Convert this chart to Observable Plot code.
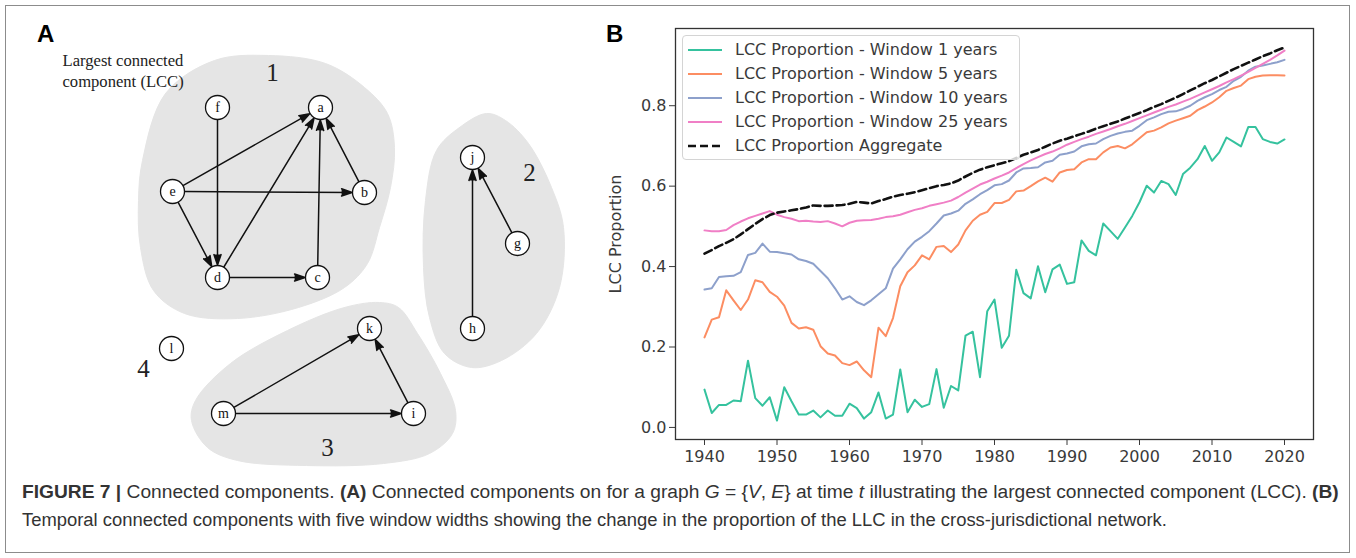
<!DOCTYPE html>
<html>
<head>
<meta charset="utf-8">
<script src="https://cdn.jsdelivr.net/npm/d3@7"></script>
<script src="https://cdn.jsdelivr.net/npm/@observablehq/plot@0.6"></script>
<style>
  body { margin: 0; background: #fff; }
  #fig { position: relative; width: 1356px; height: 558px; overflow: hidden; background: #fff; }
  #border { position: absolute; left: 5px; top: 5px; width: 1345px; height: 548px; border: 1px solid #8c8c8c; box-sizing: border-box; }
  .panel { position: absolute; }
  .plabel { position: absolute; font-family: "Liberation Sans", Arial, sans-serif; font-weight: bold; font-size: 24px; line-height: 24px; color: #000; }
  #legend { position: absolute; left: 682px; top: 35px; width: 338px; height: 125px; box-sizing: border-box;
            border: 1px solid #d4d4d4; border-radius: 4px; background: rgba(255,255,255,0.8);
            padding-top: 2px; font-family: "DejaVu Sans", sans-serif; font-size: 16px; color: #3a3a3a; }
  .lrow { height: 24px; line-height: 24px; display: flex; align-items: center; white-space: nowrap; }
  .lrow svg { margin-left: 5px; margin-right: 13px; flex: none; }
  .cap { position: absolute; left: 22px; font-family: "Liberation Sans", Arial, sans-serif; font-size: 16px; line-height: 20px; color: #333; white-space: nowrap; }
</style>
</head>
<body>
<div id="fig">
  <div id="border"></div>
  <div id="panelA" class="panel" style="left:6px; top:6px;"></div>
  <div id="panelB" class="panel" style="left:596px; top:6px;"></div>
  <div id="legend"></div>
  <div class="plabel" style="left:37px; top:22px;">A</div>
  <div class="plabel" style="left:606px; top:22px;">B</div>
  <div class="cap" id="cap1" style="top:482px;"><b>FIGURE 7 |</b> Connected components. <b>(A)</b> Connected components on for a graph <i>G</i> = {<i>V</i>, <i>E</i>} at time <i>t</i> illustrating the largest connected component (LCC). <b>(B)</b></div>
  <div class="cap" id="cap2" style="top:510px;">Temporal connected components with five window widths showing the change in the proportion of the LLC in the cross-jurisdictional network.</div>
</div>
<script>
// ---------------- Panel B data ----------------
const years = d3.range(1940, 2021);
const win1 = [0.094,0.036,0.056,0.056,0.067,0.065,0.166,0.073,0.054,0.075,
  0.017,0.100,0.065,0.032,0.032,0.042,0.025,0.042,0.029,0.029,
  0.059,0.048,0.022,0.038,0.087,0.022,0.032,0.144,0.038,0.069,
  0.051,0.058,0.145,0.049,0.103,0.092,0.228,0.238,0.125,0.289,
  0.318,0.198,0.228,0.392,0.334,0.321,0.401,0.336,0.393,0.405,
  0.357,0.361,0.465,0.439,0.428,0.507,0.488,0.469,0.497,0.526,
  0.560,0.601,0.584,0.613,0.605,0.578,0.630,0.646,0.667,0.700,
  0.663,0.684,0.721,0.710,0.699,0.747,0.747,0.717,0.710,0.706,0.716];
const win5 = [0.224,0.268,0.274,0.341,0.316,0.292,0.318,0.366,0.361,0.337,
  0.325,0.303,0.260,0.246,0.249,0.243,0.202,0.184,0.179,0.160,
  0.155,0.164,0.142,0.125,0.248,0.227,0.272,0.351,0.386,0.403,
  0.428,0.418,0.449,0.451,0.436,0.455,0.490,0.514,0.529,0.536,
  0.558,0.558,0.566,0.587,0.589,0.600,0.612,0.621,0.611,0.634,
  0.640,0.642,0.659,0.667,0.667,0.684,0.696,0.700,0.694,0.704,
  0.719,0.734,0.738,0.746,0.756,0.763,0.769,0.775,0.789,0.798,
  0.808,0.821,0.837,0.844,0.850,0.866,0.872,0.875,0.876,0.876,0.875];
const win10 = [0.343,0.346,0.374,0.376,0.377,0.386,0.429,0.434,0.457,0.437,
  0.436,0.433,0.430,0.418,0.414,0.407,0.389,0.371,0.346,0.318,
  0.326,0.312,0.304,0.316,0.331,0.346,0.395,0.418,0.443,0.462,
  0.474,0.488,0.507,0.527,0.532,0.539,0.556,0.567,0.580,0.590,
  0.602,0.605,0.614,0.634,0.644,0.645,0.647,0.659,0.663,0.678,
  0.681,0.686,0.699,0.704,0.706,0.717,0.725,0.731,0.735,0.738,
  0.750,0.764,0.771,0.779,0.785,0.786,0.792,0.800,0.812,0.821,
  0.829,0.839,0.847,0.862,0.872,0.887,0.897,0.900,0.904,0.908,0.914];
const win25 = [0.490,0.488,0.488,0.491,0.503,0.512,0.520,0.526,0.532,0.538,
  0.529,0.523,0.519,0.513,0.514,0.512,0.511,0.513,0.507,0.500,
  0.509,0.514,0.515,0.516,0.519,0.523,0.525,0.529,0.535,0.541,
  0.545,0.551,0.555,0.559,0.564,0.573,0.584,0.594,0.604,0.611,
  0.619,0.626,0.634,0.645,0.655,0.664,0.672,0.680,0.686,0.694,
  0.703,0.710,0.717,0.723,0.730,0.736,0.742,0.749,0.755,0.762,
  0.769,0.776,0.783,0.790,0.797,0.803,0.810,0.817,0.825,0.833,
  0.841,0.849,0.858,0.866,0.875,0.884,0.894,0.904,0.914,0.925,0.937];
const aggregate = [0.432,0.441,0.451,0.459,0.468,0.480,0.493,0.506,0.518,0.528,
  0.534,0.537,0.540,0.543,0.547,0.552,0.551,0.551,0.552,0.553,
  0.556,0.561,0.559,0.557,0.563,0.568,0.574,0.578,0.581,0.585,
  0.590,0.595,0.600,0.603,0.607,0.614,0.624,0.633,0.641,0.647,
  0.652,0.657,0.662,0.670,0.678,0.684,0.690,0.698,0.706,0.713,
  0.718,0.724,0.730,0.736,0.743,0.749,0.755,0.761,0.768,0.775,
  0.782,0.789,0.797,0.804,0.812,0.820,0.829,0.838,0.847,0.856,
  0.864,0.873,0.882,0.891,0.899,0.907,0.915,0.923,0.930,0.938,0.945];
const seriesNames = ["LCC Proportion - Window 1 years", "LCC Proportion - Window 5 years",
  "LCC Proportion - Window 10 years", "LCC Proportion - Window 25 years", "LCC Proportion Aggregate"];
const seriesColors = ["#35c29e", "#fc8d62", "#8da0cb", "#f07fc6", "#111111"];
const seriesDash = [null, null, null, null, "8,4"];
const seriesWidth = [2, 2, 2, 2, 2.6];
const seriesValues = [win1, win5, win10, win25, aggregate];
const xTicks = [1940, 1950, 1960, 1970, 1980, 1990, 2000, 2010, 2020];
const yTicks = [0.0, 0.2, 0.4, 0.6, 0.8];

// ---------------- Panel A data ----------------
const nodeNames = ["a","b","c","d","e","f","g","h","i","j","k","l","m"];
const nodeX = [320, 364, 317, 217, 172, 217, 517, 472, 413, 472, 369, 171, 223];
const nodeY = [107, 192, 277, 277, 191, 107, 243, 328, 413, 157, 328, 348, 413];
const edgeFrom = ["e","e","e","f","d","d","c","b","h","g","m","m","i"];
const edgeTo   = ["a","b","d","d","a","c","a","a","j","j","k","i","k"];
const blob1 = [[142,160],[165,93],[214,60],[268,55],[325,63],[364,87],[387,113],[394,147],[390,187],
  [379,227],[367,263],[344,287],[298,307],[237,318],[184,313],[153,290],[140,247],[138,200]];
const blob2 = [[486,113],[459,127],[436,150],[425,200],[423,267],[429,317],[444,353],[471,367],
  [501,360],[536,333],[559,287],[563,227],[551,187],[528,143],[505,120]];
const blob3 = [[379,302],[344,307],[287,330],[230,363],[195,400],[191,420],[207,447],[237,460],
  [306,465],[383,463],[429,453],[452,433],[455,410],[440,373],[417,333],[398,307]];
const compLabels = ["1", "2", "3", "4"];
const compX = [272, 529, 327, 143];
const compY = [72, 172, 447, 368];
const lccText = ["Largest connected", "component (LCC)"];

// ---------------- Panel A ----------------
const nodes = nodeNames.map((n, i) => ({name: n, x: nodeX[i], y: nodeY[i]}));
const nodeIdx = Object.fromEntries(nodeNames.map((n, i) => [n, i]));
const edges = edgeFrom.map((f, i) => ({
  x1: nodeX[nodeIdx[f]], y1: nodeY[nodeIdx[f]],
  x2: nodeX[nodeIdx[edgeTo[i]]], y2: nodeY[nodeIdx[edgeTo[i]]]
}));
const comps = compLabels.map((t, i) => ({t, x: compX[i], y: compY[i]}));
const blobMark = (b) => Plot.line(b, {x: d => d[0], y: d => d[1], curve: "catmull-rom-closed",
  fill: "#e5e5e5", stroke: "#e5e5e5", strokeWidth: 1});

const plotA = Plot.plot({
  width: 588, height: 470, margin: 0,
  x: {domain: [6, 594], range: [0, 588], axis: null},
  y: {domain: [6, 476], range: [0, 470], axis: null},
  style: {background: "transparent", fontFamily: "Liberation Serif", color: "#111"},
  marks: [
    blobMark(blob1), blobMark(blob2), blobMark(blob3),
    Plot.arrow(edges, {x1: "x1", y1: "y1", x2: "x2", y2: "y2", stroke: "#111", fill: "#111",
      strokeWidth: 1.5, headLength: 11, headAngle: 38, insetStart: 12, insetEnd: 12.5}),
    Plot.dot(nodes, {x: "x", y: "y", r: 12, fill: "white", stroke: "#111", strokeWidth: 1.3}),
    Plot.text(nodes, {x: "x", y: "y", text: "name", fontSize: 14, fontFamily: "Liberation Serif", fill: "#111"}),
    Plot.text(comps, {x: "x", y: "y", text: "t", fontSize: 25, fontFamily: "Liberation Serif", fill: "#222"}),
    Plot.text([lccText.join("\n")], {x: () => 62, y: () => 51, text: d => d, textAnchor: "start", lineAnchor: "top",
      fontSize: 16.6, lineHeight: 1.25, fontFamily: "Liberation Serif", fill: "#222"})
  ]
});
document.getElementById("panelA").appendChild(plotA);

// ---------------- Panel B ----------------
const rows = seriesValues.map((vals, s) => years.map((y, i) => ({year: y, value: vals[i], series: seriesNames[s]})));
const plotB = Plot.plot({
  width: 750, height: 470,
  marginLeft: 79, marginRight: 33, marginTop: 22, marginBottom: 37,
  style: {background: "transparent", fontFamily: "DejaVu Sans", fontSize: "16px", color: "#3a3a3a"},
  x: {domain: [1936, 2024], ticks: xTicks, tickFormat: d => String(d), tickSize: 6, tickPadding: 5, label: null},
  y: {domain: [-0.03, 0.992], ticks: yTicks, tickFormat: d => d.toFixed(1), tickSize: 6, tickPadding: 3,
      label: "LCC Proportion", labelAnchor: "center", labelOffset: 66, labelArrow: "none"},
  marks: [
    ...rows.map((r, s) => Plot.line(r, {x: "year", y: "value", stroke: seriesColors[s],
      strokeWidth: seriesWidth[s], strokeDasharray: seriesDash[s] || undefined})),
    Plot.frame({stroke: "#333", strokeWidth: 1.3})
  ]
});
document.getElementById("panelB").appendChild(plotB);

// ---------------- Legend ----------------
const legend = d3.select("#legend");
seriesNames.forEach((name, s) => {
  const row = legend.append("div").attr("class", "lrow");
  const svg = row.append("svg").attr("width", 34).attr("height", 10);
  svg.append("line").attr("x1", 0).attr("x2", 34).attr("y1", 5).attr("y2", 5)
    .attr("stroke", seriesColors[s]).attr("stroke-width", seriesWidth[s])
    .attr("stroke-dasharray", seriesDash[s]);
  row.append("span").text(name);
});

// ---------------- Caption width fit ----------------
[["cap1", 1317], ["cap2", 1146]].forEach(([id, target]) => {
  const el = document.getElementById(id);
  const w = el.getBoundingClientRect().width;
  el.style.fontSize = (16 * target / w).toFixed(2) + "px";
});
</script>
</body>
</html>
